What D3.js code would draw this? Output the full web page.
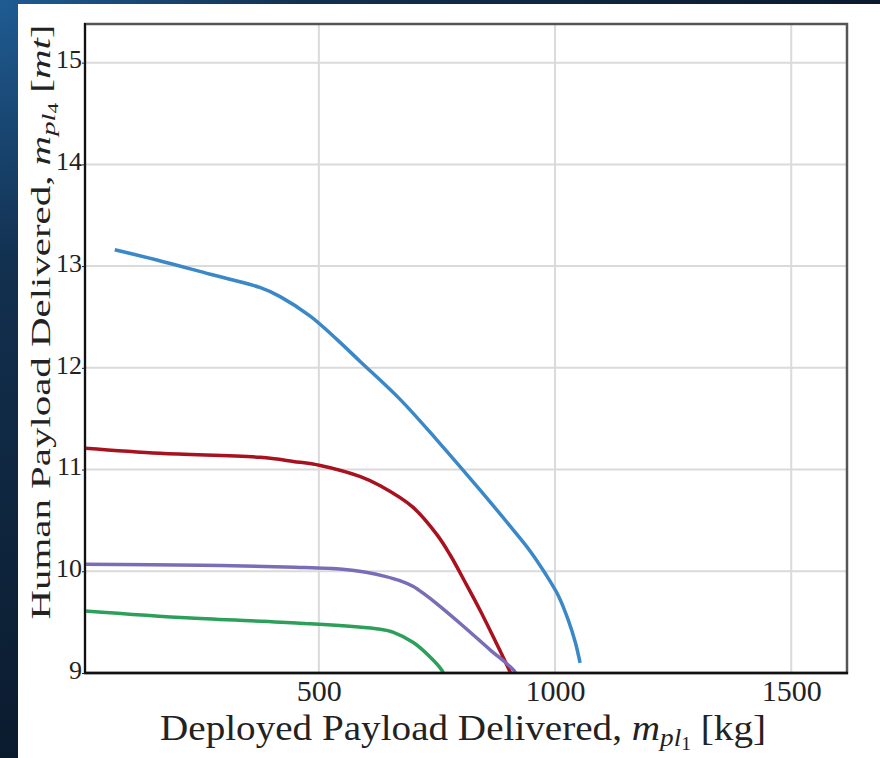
<!DOCTYPE html>
<html>
<head>
<meta charset="utf-8">
<script src="https://cdn.jsdelivr.net/npm/d3@7"></script>
<style>
  body { margin: 0; background: #0f2440; }
  svg { display: block; }
</style>
</head>
<body>
<div id="content"></div>
<script>
// values
var xTicks = [500, 1000, 1500];
var yTicks = [9, 10, 11, 12, 13, 14, 15];

var blueX = [68, 157, 270, 375, 418, 481, 538, 588, 672, 750, 841, 911, 947, 979, 1007, 1028, 1043, 1053];
var blueY = [13.16, 13.06, 12.92, 12.79, 12.70, 12.51, 12.28, 12.06, 11.69, 11.29, 10.80, 10.41, 10.20, 9.98, 9.76, 9.52, 9.30, 9.10];

var redX = [5, 164, 376, 446, 503, 588, 630, 699, 750, 778, 810, 841, 873, 903, 912];
var redY = [11.21, 11.16, 11.12, 11.08, 11.04, 10.93, 10.84, 10.63, 10.36, 10.16, 9.89, 9.62, 9.32, 9.03, 8.94];

var purpleX = [5, 249, 450, 550, 600, 640, 670, 700, 725, 750, 806, 862, 912, 920];
var purpleY = [10.07, 10.06, 10.04, 10.02, 9.99, 9.95, 9.91, 9.85, 9.77, 9.68, 9.46, 9.23, 9.03, 8.97];

var greenX = [5, 228, 460, 630, 658, 700, 735, 760, 766];
var greenY = [9.61, 9.54, 9.49, 9.43, 9.40, 9.30, 9.16, 9.03, 8.97];

var seriesList = [
  {x: blueX, y: blueY, color: "#3a88c8"},
  {x: redX, y: redY, color: "#a8111e"},
  {x: purpleX, y: purpleY, color: "#7b6cb8"},
  {x: greenX, y: greenY, color: "#2ca05a"}
];

var W = 880, H = 758;
var pLeft = 85, pRight = 847, pTop = 24, pBottom = 673;
var serif = "'Liberation Serif', 'DejaVu Serif', serif";

var svg = d3.select("#content").append("svg")
  .attr("width", W).attr("height", H);

var defs = svg.append("defs");
var grad = defs.append("radialGradient").attr("id", "bg")
  .attr("cx", "0").attr("cy", "0").attr("r", "1");
grad.append("stop").attr("offset", "0").attr("stop-color", "#1f5b92");
grad.append("stop").attr("offset", "0.35").attr("stop-color", "#12304f");
grad.append("stop").attr("offset", "1").attr("stop-color", "#0b1b2e");

svg.append("rect").attr("width", W).attr("height", H).attr("fill", "url(#bg)");
svg.append("rect").attr("x", 18).attr("y", 4).attr("width", W - 18).attr("height", H - 4).attr("fill", "#fff");

defs.append("clipPath").attr("id", "plotclip")
  .append("rect").attr("x", pLeft).attr("y", pTop).attr("width", pRight - pLeft).attr("height", pBottom - pTop);

var x = d3.scaleLinear().domain([5, 1618]).range([pLeft, pRight]);
var y = d3.scaleLinear().domain([9, 15.38]).range([pBottom, pTop]);

// grid
svg.append("g").selectAll("line").data(xTicks).join("line")
  .attr("x1", d => x(d)).attr("x2", d => x(d))
  .attr("y1", pTop).attr("y2", pBottom)
  .attr("stroke", "#dadada").attr("stroke-width", 2);
svg.append("g").selectAll("line").data(yTicks).join("line")
  .attr("x1", pLeft).attr("x2", pRight)
  .attr("y1", d => y(d)).attr("y2", d => y(d))
  .attr("stroke", "#dadada").attr("stroke-width", 2);

// curves
var line = d3.line().curve(d3.curveCatmullRom.alpha(0.5));
var lines = svg.append("g").attr("clip-path", "url(#plotclip)");
seriesList.forEach(function(s){
  var pts = s.x.map((v, i) => [x(v), y(s.y[i])]);
  lines.append("path").attr("d", line(pts))
    .attr("fill", "none").attr("stroke", s.color)
    .attr("stroke-width", 3.5).attr("stroke-linejoin", "round");
});

// frame
svg.append("rect").attr("x", pLeft).attr("y", pTop)
  .attr("width", pRight - pLeft).attr("height", pBottom - pTop)
  .attr("fill", "none").attr("stroke", "#555").attr("stroke-width", 2.5);
svg.append("line").attr("x1", pLeft).attr("x2", pLeft).attr("y1", pTop - 1).attr("y2", pBottom + 1)
  .attr("stroke", "#111").attr("stroke-width", 2);
svg.append("line").attr("x1", pLeft - 1).attr("x2", pRight + 1).attr("y1", pBottom).attr("y2", pBottom)
  .attr("stroke", "#111").attr("stroke-width", 2.5);

// axes
var xAxis = svg.append("g").attr("transform", "translate(0," + pBottom + ")")
  .call(d3.axisBottom(x).tickValues(xTicks).tickFormat(d3.format("d")).tickSize(0).tickPadding(7));
var yAxis = svg.append("g").attr("transform", "translate(" + pLeft + ",0)")
  .call(d3.axisLeft(y).tickValues(yTicks).tickFormat(d3.format("d")).tickSize(3).tickPadding(0));
[xAxis, yAxis].forEach(function(a){
  a.select(".domain").remove();
  a.selectAll("text").attr("font-family", serif).attr("fill", "#222");
  a.selectAll("line").attr("stroke", "#222");
});
xAxis.selectAll("text").attr("font-size", 30).attr("dy", "0.71em");
yAxis.selectAll("text").attr("font-size", 26).attr("dy", "0.2em");

// axis titles
var xt = svg.append("text")
  .attr("x", 463).attr("y", 740)
  .attr("text-anchor", "middle")
  .attr("font-family", serif).attr("font-size", 36).attr("fill", "#222")
  .attr("textLength", 606).attr("lengthAdjust", "spacingAndGlyphs");
xt.append("tspan").text("Deployed Payload Delivered, ");
xt.append("tspan").attr("font-style", "italic").text("m");
xt.append("tspan").attr("font-style", "italic").attr("font-size", 25).attr("dy", 6).text("pl");
xt.append("tspan").attr("font-size", 18).attr("dy", 4).text("1");
xt.append("tspan").attr("dy", -10).text("  [kg]");

var yt = svg.append("text")
  .attr("transform", "translate(50,322) rotate(-90)")
  .attr("text-anchor", "middle")
  .attr("font-family", serif).attr("font-size", 27).attr("fill", "#222")
  .attr("textLength", 595).attr("lengthAdjust", "spacingAndGlyphs");
yt.append("tspan").text("Human Payload Delivered, ");
yt.append("tspan").attr("font-style", "italic").text("m");
yt.append("tspan").attr("font-style", "italic").attr("font-size", 19).attr("dy", 5).text("pl");
yt.append("tspan").attr("font-size", 14).attr("dy", 3).text("4");
yt.append("tspan").attr("dy", -8).text(" [");
yt.append("tspan").attr("font-style", "italic").text("mt");
yt.append("tspan").text("]");
</script>
</body>
</html>
